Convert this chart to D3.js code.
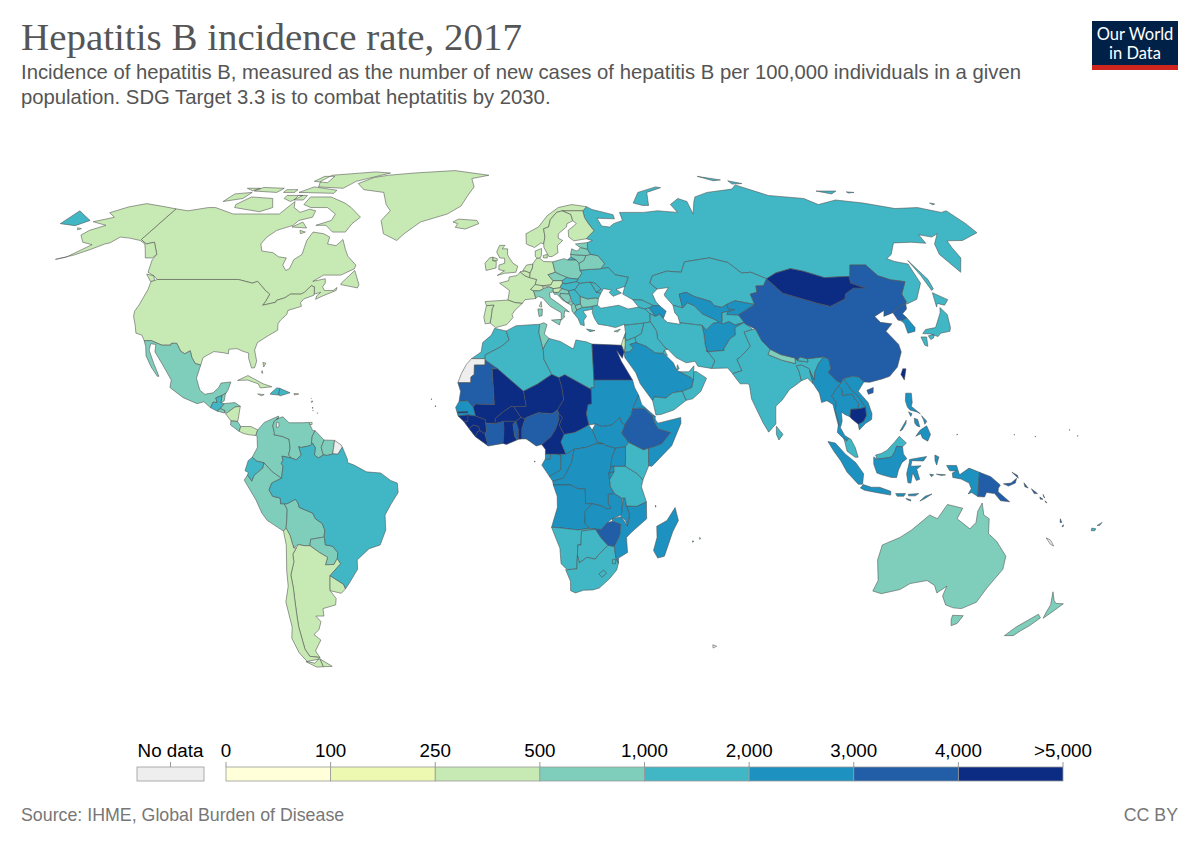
<!DOCTYPE html>
<html>
<head>
<meta charset="utf-8">
<script src="https://cdn.jsdelivr.net/npm/d3@7"></script>
<style>
  body { margin: 0; background: #fff; }
  text { font-family: "Liberation Sans", Arial, sans-serif; }
</style>
</head>
<body>
<div id="chart"></div>
<script>
// 1: DATA
// band limits and legend labels
const breaks = [100, 250, 500, 1000, 2000, 3000, 4000, 5000];
const tickLabels = ["0", "100", "250", "500", "1,000", "2,000", "3,000", "4,000", ">5,000"];
const bandColors = ["#ffffd9", "#edf8b1", "#c7e9b4", "#7fcdbb", "#41b6c4", "#1d91c0", "#225ea8", "#0c2c84"];

// Robinson lookup table, one row per 5 degrees of latitude
const robinsonLat = [0, 5, 10, 15, 20, 25, 30, 35, 40, 45, 50, 55, 60, 65, 70, 75, 80, 85, 90];
const robinsonLen = [1, .9986, .9954, .99, .9822, .973, .96, .9427, .9216, .8962, .8679, .835, .7986, .7597, .7186, .6732, .6213, .5722, .5322];
const robinsonDrop = [0, .062, .124, .186, .248, .31, .372, .434, .4958, .5571, .6176, .6769, .7346, .7903, .8435, .8936, .9394, .9761, 1];

// country list, rates read from the map colours (null = no data)
const countries = [
  "Russia", "Canada", "USA", "Greenland", "Iceland", "Mexico", "Guatemala", "Belize", "El Salvador", "Honduras",
  "Nicaragua", "Costa Rica", "Panama", "Cuba", "Haiti", "Dominican Republic", "Jamaica", "Puerto Rico", "Bahamas", "Trinidad",
  "Antilles", "Colombia", "Venezuela", "Guyana", "Suriname", "French Guiana", "Ecuador", "Peru", "Bolivia", "Paraguay",
  "Argentina", "Chile", "Uruguay", "Brazil", "Norway", "Sweden", "Finland", "Denmark", "UK", "Ireland",
  "France", "Spain", "Portugal", "Belgium", "Netherlands", "Germany", "Switzerland", "Austria", "Italy", "Poland",
  "Czechia", "Slovakia", "Hungary", "Slovenia", "Croatia", "Bosnia", "Serbia", "Montenegro", "Albania", "Macedonia",
  "Greece", "Bulgaria", "Romania", "Moldova", "Ukraine", "Belarus", "Lithuania", "Latvia", "Estonia", "Turkey",
  "Cyprus", "Georgia", "Armenia", "Azerbaijan", "Kazakhstan", "Turkmenistan", "Uzbekistan", "Tajikistan", "Kyrgyzstan", "Afghanistan",
  "Pakistan", "Iran", "Iraq", "Syria", "Lebanon", "Jordan", "Israel", "Saudi Arabia", "Yemen", "Oman",
  "UAE", "Qatar", "Kuwait", "India", "Nepal", "Bhutan", "Bangladesh", "Sri Lanka", "Myanmar", "China",
  "Mongolia", "Taiwan", "North Korea", "South Korea", "Japan", "Vietnam", "Laos", "Thailand", "Cambodia", "Malaysia",
  "Indonesia", "Papua New Guinea", "Solomon Islands", "Vanuatu", "Fiji", "New Caledonia", "Philippines", "Australia", "New Zealand", "Morocco",
  "Western Sahara", "Algeria", "Tunisia", "Libya", "Egypt", "Sudan", "South Sudan", "Chad", "Niger", "Mali",
  "Mauritania", "Senegal", "Gambia", "Guinea-Bissau", "Guinea", "Sierra Leone", "Liberia", "Ivory Coast", "Burkina Faso", "Ghana",
  "Togo", "Benin", "Nigeria", "Cameroon", "Central African Republic", "Gabon", "Equatorial Guinea", "Congo", "DR Congo", "Angola",
  "Zambia", "Namibia", "Botswana", "South Africa", "Lesotho", "Eswatini", "Zimbabwe", "Mozambique", "Malawi", "Tanzania",
  "Kenya", "Uganda", "Rwanda", "Burundi", "Ethiopia", "Eritrea", "Djibouti", "Somalia", "Madagascar", "Cape Verde",
  "Sao Tome", "Comoros", "Mauritius", "Kerguelen", "Palau", "Micronesia", "Marshall Islands"
];
const rates = [
  1450, 340, 380, 320, 290, 720, 1600, 800, 760, 850,
  420, 690, 460, 400, 1300, 1100, 450, 380, 420, 470,
  600, 760, 820, 780, 840, null, 1500, 790, 880, 740,
  430, 350, 390, 1350, 280, 300, 310, 270, 330, 290,
  360, 350, 440, 340, 300, 370, 320, 410, 650, 620,
  580, 1050, 1150, 470, 700, 780, 1200, 900, 850, 950,
  1050, 820, 1300, 1150, 1400, 800, 720, 780, 640, 1250,
  620, 1100, 1050, 2200, 1500, 1700, 2300, 1800, 2400, 2500,
  1400, 1300, 1350, 1200, 1100, 1050, 420, 2400, 1600, 1500,
  1300, 1200, 1100, 1500, 780, 1400, 1350, 1200, 2400, 3400,
  5400, 5200, 3500, 2100, 1300, 2500, 2400, 2300, 5300, 1600,
  2500, 3500, 3600, 3300, 1500, null, 2400, 800, 720, 1400,
  null, 1500, 880, 1450, 5400, 2600, 2500, 5300, 5500, 5200,
  3700, 2300, 5100, 4100, 5200, 5000, 5100, 3600, 5400, 5200,
  3800, 5000, 3700, 5100, 2600, 2700, 2800, 2400, 2500, 2600,
  2700, 1500, 1600, 1400, 1300, 1250, 3500, 2600, 2500, 1700,
  1600, 2600, 2500, 2400, 3600, 2300, 2200, 2700, 2600, 5100,
  5000, 2600, 2400, null, 1500, 1600, 1500
];

// country outlines as "lon lat,lon lat" rings, several rings split with |
const outlines = {
  "Russia": "31 70.3,33 69.4,41 67.8,41 66.5,34 66.7,35 64.3,38 64,40 65,44 66,44 68.5,54 68.5,60 69,68 68.5,67 71,72 73,75 72,74 68,78 72,80 73.5,87 75,100 76.2,104 77.7,113 74,127 73,130 71,140 72.5,150 71.5,160 69.7,170 70,177 68.5,180 69,180 65,179.5 62.3,170 60,164 59.9,163 58,162 55,157 51,155.6 56,158 59,163.6 62,160 61,156 61.7,155 59.2,150 59.5,143 59.3,138 56,135 54.8,137 54,141 53.3,140 48,135 43.6,130.7 42.3,131 43,131 45,135 48.4,130.5 48.9,127 50,125.6 53,120 53,117 49.7,116.7 49.8,113 49.7,108 49.5,102 51.3,98 52,92 50.8,87.8 49.2,83.4 51,80 50.8,77 53.7,71 55,61.5 53.9,59 51,54 51.3,48.5 50,47 48,49 46.4,47 45,47.6 43,48.5 41.9,46.5 41.9,43 43.4,40 43.5,37 45,38.2 47.1,40 49.6,35.6 50.3,33.8 52.3,31 52,32.7 53.4,30.9 55.6,28.2 56,27.5 57.5,28 59.4,30 60,27.8 60.5,31.5 62.9,30 65,29 66.9,29 69,31 70.3|19.6 54.4,21 55.3,22.8 54.4|51.5 71.5,55 70.7,57.5 70.7,60 75,68 76.7,66 77,56 75|142 54.3,143.5 49,143 46.5,142 46,142 50|91 81,100 79.5,96 79.2|103 79.2,108 78.2,103 78|137 75.5,146 75.5,142 74.5|150 75.2,153 75,150 74.8|178.5 71.5,180 71.2,178.5 70.9|-180 69,-175 67.5,-170 66,-173 64.4,-180 65",
  "Canada": "-141 69.6,-135 69,-128 70,-125 70,-115 68,-110 68,-100 68,-96 68,-94 72,-92 70,-88 68.5,-85 69.5,-82 69,-81.5 67,-86 66,-87 64.5,-92 63,-94 61,-94.5 59,-92.5 57,-88 56.5,-85 55.3,-82 55,-82 53,-80 51.5,-79 52,-79 54.5,-77 56,-77.5 58,-78 60,-77.5 62.5,-73 62,-70 61,-69.5 59,-66 58.5,-64.5 60.3,-62 57.5,-60 55.5,-56 53,-56 52,-60 50.2,-66 50.2,-69 48.5,-65 49.2,-64.5 48,-65 47,-64 46,-61 46,-60 46.8,-60 46,-64 44.5,-66 43.6,-66 44.5,-65 45.5,-67 45,-67.8 47,-69 47.3,-70.5 45.5,-71.5 45,-75 45,-76.5 44,-79 43.3,-79 42.8,-83 42,-82.5 43,-82 45,-84 46,-88 48.5,-89.5 48,-95 49,-123 49,-125 50,-128 51,-130 54.5,-130 56,-135 59.5,-137.5 59,-141 60.3|-80 73.5,-72 71.5,-68 70,-62 67,-64 65,-65 62.5,-70 62.5,-74 64.5,-78 64.5,-73 66,-73 68,-78 70,-85 70,-89 71,-89 73.5|-117 70,-105 68.7,-101 70,-105 73,-115 73.5,-118 71|-125 72,-118 73,-117 75,-124 74.5|-90 77,-78 76.5,-75 79,-62 82.5,-70 83,-90 81.5,-92 79|-96 75,-80 74.7,-80 75.8,-92 77|-117 75.5,-106 75,-105 76.5,-115 76.8|-59 47.6,-53 46.7,-52.8 47.6,-55.7 51.5,-59 48|-128 50.5,-125 48.5,-123.5 48.5,-125 50|-87 64,-81 63.7,-84 65.5|-95 79,-88 78.5,-88 81,-93 81|-100 73,-96 72,-93 74,-100 74|-122 76.5,-116 76.5,-118 75.6|-103 76,-98 76,-98 75,-103 75|-95 74,-91 74,-91 72.5,-95 72.5|-83 63,-80.5 62.5,-82 62",
  "USA": "-124.7 48.4,-123 49,-95 49,-89.5 48,-88 48.5,-84 46,-82 45,-82.5 43,-83 42,-79 42.8,-79 43.3,-76.5 44,-75 45,-71.5 45,-70.5 45.5,-69 47.3,-67.8 47,-67 45,-67 44.7,-70 43.7,-70.7 42.7,-70 41.7,-74 40.6,-74 39.5,-75.5 38,-76 37,-75.5 35.3,-78 33.9,-81 32,-81.3 30,-80 27,-80.3 25.3,-81.2 25.2,-82.7 27.8,-83 29.2,-85 29.7,-87 30.4,-89.5 30.2,-89.3 29,-91 29.3,-94 29.6,-97 28,-97.2 26,-99 26.4,-100.5 28,-101.5 29.8,-103 29,-104.5 29.7,-106.5 31.8,-108.2 31.8,-108.2 31.3,-111 31.3,-114.8 32.5,-117.1 32.5,-118.5 34,-120.6 34.5,-122 36.7,-123.8 39,-124.3 40.4,-124 42,-124 46.2|-141 69.6,-148 70.4,-156.5 71.3,-162 70.2,-166.5 68.4,-162 67,-164 66.5,-168 65.6,-161 64.5,-165 63,-166 61.6,-162 59.5,-157.5 58.8,-162 55.2,-165 54.6,-160 55.8,-156 57.5,-153 59,-151.5 59.3,-150 61,-146 60.7,-141 60,-138 59,-136 57.5,-133 55,-130.5 55,-130 56,-135 59.5,-137.5 59,-141 60.3|-171 63.8,-169 63.5,-170 63.2",
  "Greenland": "-73 78.2,-68 76,-58 75,-54 71,-51 69,-53 66,-50 62,-44 60,-42 62,-37 65.5,-27 68,-22 70.5,-20 74,-18 77,-20 80,-12 81.5,-30 83.6,-50 82.5,-62 81.5,-68 80.5",
  "Iceland": "-24 65.5,-22 66.4,-18 66.2,-14.5 66,-13.6 65,-18.7 63.4,-22.7 63.9,-22 65",
  "Mexico": "-117.1 32.5,-114.8 32.5,-111 31.3,-108.2 31.3,-108.2 31.8,-106.5 31.8,-104.5 29.7,-103 29,-101.5 29.8,-100.5 28,-99 26.4,-97.2 26,-97.8 22.5,-96.2 19.3,-94.5 18.2,-92 18.6,-90.5 20,-90 21.2,-87 21.5,-87.5 19.5,-88 18.5,-89.15 17.9,-91 17.25,-90.4 16,-91.7 16.1,-92.2 14.6,-94.5 16.2,-96.5 15.7,-101 17.3,-105.5 20,-105.5 22,-109 26,-112.5 29.5,-113 31.5,-114.7 31.7,-114.5 30,-112 26.5,-109.5 23,-110 23,-112.5 25.5,-115 28.5,-116 31",
  "Guatemala": "-92.2 14.6,-91.7 16.1,-90.4 16,-91 17.25,-89.15 17.9,-89.2 15.9,-88.2 15.7,-89.2 14.5,-90.1 13.7",
  "Belize": "-89.15 17.9,-88.2 18.5,-88.3 16.5,-89.2 15.9",
  "El Salvador": "-90.1 13.7,-89.2 14.4,-87.8 13.9,-87.8 13.2",
  "Honduras": "-89.2 14.4,-88.2 15.7,-85 16,-83.2 15,-84.8 14.8,-87.3 13,-87.8 13.4,-87.8 13.9",
  "Nicaragua": "-87.5 13,-84.8 14.8,-83.2 15,-83.6 11,-85.7 11.1",
  "Costa Rica": "-85.7 11.1,-83.6 10.9,-82.6 9.6,-83 8.3,-85.7 10",
  "Panama": "-83 8.3,-82.6 9.6,-79.5 9.6,-77.4 8.7,-77.9 7.2,-80 7.4,-81.5 7.7",
  "Cuba": "-85 21.9,-82 23.2,-77 21,-74.2 20.2,-77.7 19.9,-78.5 21,-82 22",
  "Haiti": "-74.4 18.4,-72.7 19.9,-71.7 19.8,-71.8 18,-74.4 18.2",
  "Dominican Republic": "-71.7 19.8,-68.4 18.6,-71.3 17.8,-71.8 18",
  "Jamaica": "-78.3 18.3,-76.3 18.1,-77.2 17.8",
  "Puerto Rico": "-67.2 18.4,-65.7 18.3,-67 18",
  "Bahamas": "-78 26.7,-77 26.5,-77.5 25.5|-77.8 24.5,-77.5 23.8,-77.9 24",
  "Trinidad": "-61.8 10.7,-61 10.7,-61 10.1,-61.9 10.1",
  "Antilles": "-61.8 17.1,-61.7 17.1,-61.7 17|-61.7 16.3,-61.2 16.4,-61.5 16|-61.2 14.8,-61 14.6,-61.1 14.4|-61 14,-60.9 13.9,-61 13.8|-59.6 13.3,-59.5 13.1,-59.6 13.1",
  "Colombia": "-77.4 8.7,-75.5 10.7,-72.3 12,-71.3 12.4,-71.3 11.8,-72.5 11,-72.9 9.8,-72.3 8,-72.4 7.4,-70 7,-67.8 6.2,-67.4 3.8,-67.8 2,-67 1.2,-69.8 1.7,-69.5 0.6,-70 -0.2,-69.5 -1,-70 -4.2,-70.7 -3.8,-72.9 -2.4,-75.2 -0.1,-77.5 0.4,-78.8 1.4,-77.3 4,-77.5 7,-77.9 7.2",
  "Venezuela": "-71.3 11.8,-71.9 11.6,-70 12.2,-68 10.6,-64 10.6,-62 10.7,-60.7 8.5,-60 8.5,-60.8 7,-61 5.2,-60.7 5.2,-61.3 4.5,-64 4,-64.8 4.2,-64 2,-65.5 0.7,-67 1.2,-67.8 2,-67.4 3.8,-67.8 6.2,-70 7,-72.4 7.4,-72.3 8,-72.9 9.8,-72.5 11|-71.7 10.8,-71.1 10.6,-71 9.6,-71.8 9.3",
  "Guyana": "-60 8.5,-57.2 6,-58 4,-57.3 2,-58.8 1.2,-60 2,-59.8 4,-60.7 5.2,-61 5.2,-60.8 7",
  "Suriname": "-57.2 6,-54 5.9,-54.5 2.3,-56 1.9,-57.3 2,-58 4",
  "French Guiana": "-54 5.9,-52 4.7,-51.6 4.1,-52.9 2.2,-54.5 2.3",
  "Ecuador": "-78.8 1.4,-77.5 0.4,-75.2 -0.1,-75.6 -1.5,-78.3 -3.5,-79 -5,-80.3 -3.4,-80 -2.7,-81 -2.2,-80 0.5",
  "Peru": "-80.3 -3.4,-79 -5,-78.3 -3.5,-75.6 -1.5,-75.2 -0.1,-72.9 -2.4,-70.7 -3.8,-70 -4.2,-73 -5.5,-73.9 -7.3,-72.9 -9,-70.6 -9.5,-70.6 -11,-69.5 -11,-68.7 -12.5,-69 -15,-69.5 -17.5,-70.4 -18.3,-75 -15.5,-76.5 -13.5,-78 -10,-81.3 -4.7",
  "Bolivia": "-69.5 -11,-68.7 -12.5,-69 -15,-69.5 -17.5,-68.5 -19.5,-67.8 -22.8,-66.3 -21.9,-64.5 -22.2,-62.7 -22.2,-62.3 -20.5,-58.2 -19.9,-57.7 -18,-58.3 -16.3,-60.3 -15,-61 -13.5,-65 -12,-65.3 -10.8,-66 -9.8,-68.6 -11",
  "Paraguay": "-62.7 -22.2,-62.3 -20.5,-58.2 -19.9,-58 -20,-57.9 -22,-55.8 -22.3,-54.3 -24,-54.6 -25.6,-55.9 -27.2,-58.6 -27.3,-57.6 -25.3,-60 -24",
  "Argentina": "-66.3 -21.9,-64.5 -22.2,-62.7 -22.2,-60 -24,-57.6 -25.3,-58.6 -27.3,-55.9 -27.2,-54.6 -25.6,-53.8 -27,-57.6 -30.2,-58.2 -33,-58.4 -34.2,-57 -36.3,-57.6 -38,-62 -39,-62.3 -41,-65 -41,-63.8 -42.5,-65.3 -44.7,-67.5 -46,-65.8 -47.5,-69 -50.5,-68.4 -52.3,-71.8 -52,-72.4 -50,-71.8 -44,-71.2 -41,-70.5 -37,-70 -33.5,-69.9 -30,-68.3 -26.5,-68.3 -24.5,-67 -22.8|-68.6 -52.7,-65.3 -54.8,-68.6 -54.9",
  "Chile": "-69.5 -17.5,-70.4 -18.3,-70 -22,-71 -29,-71.5 -33,-73.5 -37.2,-73.7 -41,-74 -44,-75.5 -47,-75 -51,-73.5 -53.5,-71 -53.9,-68.4 -52.3,-71.8 -52,-72.4 -50,-71.8 -44,-71.2 -41,-70.5 -37,-70 -33.5,-69.9 -30,-68.3 -26.5,-68.3 -24.5,-67 -22.8,-67.8 -22.8,-68.5 -19.5|-68.6 -52.7,-68.6 -54.9,-71 -55,-74 -53.5,-70.5 -53",
  "Uruguay": "-57.6 -30.2,-53.8 -32.5,-53.4 -33.7,-55 -34.9,-58.4 -34.2,-58.2 -33",
  "Brazil": "-51.6 4.1,-50 0.8,-50 0,-48 -0.7,-44.3 -2.5,-40 -2.8,-37 -4.8,-35 -5.5,-34.8 -8,-37 -11,-39 -14,-39 -18,-41 -22,-44.5 -23,-48.5 -26,-48.7 -28.5,-52 -32.3,-53.4 -33.7,-53.8 -32.5,-57.6 -30.2,-53.8 -27,-54.6 -25.6,-54.3 -24,-55.8 -22.3,-57.9 -22,-58 -20,-57.7 -18,-58.3 -16.3,-60.3 -15,-61 -13.5,-65 -12,-65.3 -10.8,-66 -9.8,-68.6 -11,-70.6 -11,-70.6 -9.5,-72.9 -9,-73.9 -7.3,-73 -5.5,-70 -4.2,-69.5 -1,-70 -0.2,-69.5 0.6,-69.8 1.7,-67 1.2,-65.5 0.7,-64 2,-64.8 4.2,-64 4,-61.3 4.5,-60.7 5.2,-59.8 4,-60 2,-58.8 1.2,-57.3 2,-56 1.9,-54.5 2.3,-52.9 2.2",
  "Norway": "5 59,5 62,10 64,14 67.5,19 70,25 71,31 70.3,29 69,25.7 69,20.5 69,18 68.5,15 66.2,14 64,12 63.5,12.2 61,11.5 59,10.5 59.3,8 58,5.5 58.8",
  "Sweden": "11.5 59,12.2 61,12 63.5,14 64,15 66.2,18 68.5,20.5 69,23.7 67.9,24 65.9,21.5 65,21 64,17.5 62,17.2 60.7,18.8 60,16.5 58.5,16.5 56.5,14.2 55.4,13 55.4,11.5 58",
  "Finland": "20.5 69,25.7 69,29 69,29 66.9,30 65,31.5 62.9,27.8 60.5,23 59.9,21.3 61,21.5 63,25.2 65,24 65.9,23.7 67.9",
  "Denmark": "8.1 55.5,8.2 57,10.6 57.7,10.3 55.6,9.7 54.9,8.6 54.9|11 55.7,12.5 56,12.4 55,11 55",
  "UK": "-5.5 50.1,-3 50.7,1 51,1.7 52.7,0 53.5,-1.5 55.2,-2 56,-2 57.6,-4 57.6,-3 58.6,-5 58.6,-6 56.7,-4.8 55,-3 54.9,-3 53.5,-5 53,-5 51.7,-3 51.4|-7.3 55.2,-5.7 54.8,-5.6 54.3,-7.3 54.2",
  "Ireland": "-7.3 55.2,-7.3 54.2,-6 54,-6 52.2,-9.5 51.5,-10 53.5,-8.5 55",
  "France": "-1.7 43.4,-1.2 46,-4.6 48,-1.5 48.7,-1.3 49.7,1.5 50.1,2.5 51.1,4.2 50,5.8 49.5,8.2 49,7.6 47.6,6 46.3,7 45.9,7.6 44,7.5 43.8,4 43.5,3.1 42.5,0.7 42.7|9.4 43,9.5 41.5,8.7 41.7",
  "Spain": "-9.3 43,-1.7 43.4,0.7 42.7,3.1 42.5,0.7 40.7,-0.3 39.5,0 38.7,-2 36.8,-5.6 36,-7.4 37.2,-7 39.7,-6.9 41,-6.3 42,-8.8 41.9",
  "Portugal": "-8.8 41.9,-6.3 42,-6.9 41,-7 39.7,-7.4 37.2,-9 37,-9.5 38.8",
  "Belgium": "2.5 51.1,4.2 51.4,6 50.8,5.8 49.5,4.2 50",
  "Netherlands": "3.4 51.4,4.8 53,7.1 53.3,6.9 52.2,6 50.8,4.2 51.4",
  "Germany": "6 50.8,6.9 52.2,7.1 53.4,8.6 54.9,9.7 54.9,11 54,14.2 53.9,14.7 51.5,14.9 51,12.2 50.3,13.8 48.7,13 47.5,10 47.3,7.6 47.6,8.2 49,5.8 49.5",
  "Switzerland": "6 46.3,7.6 47.6,10 47.3,10.4 46.5,9 45.9,7 45.9",
  "Austria": "10 47.3,13 47.5,13.8 48.7,17 48.7,17 48,16.1 46.9,16 46.7,13.7 46.5,12.2 47,10.4 46.9",
  "Italy": "7 45.9,9 45.9,10.4 46.5,12.2 47,13.7 46.5,13.6 45.7,12.3 45.3,12.5 44,16 41.9,18.5 40.2,17 40.5,16.6 39,17 39,15.7 38,15.8 40,12.3 41.7,10 43.9,8.5 44.4,7.5 43.8,7.6 44|12.5 38,15.6 38.2,15 36.7|8.2 41,9.7 41,9.5 39.2,8.5 39",
  "Poland": "14.2 53.9,18.5 54.8,19.6 54.4,22.8 54.4,23.6 53.5,23.6 51.6,24.1 50.7,22.5 49.1,19 49.4,16.5 50.3,14.9 51,14.7 51.5",
  "Czechia": "12.2 50.3,14.9 51,16.5 50.3,18.8 49.6,17 48.7,13.8 48.7",
  "Slovakia": "17 48.7,18.8 49.6,19 49.4,22.5 49.1,22 48.4,18 47.8,17 48",
  "Hungary": "16.1 46.9,17 48,18 47.8,22 48.4,22.9 48,21 46.2,18.8 45.9,16.6 46.5",
  "Slovenia": "13.7 46.5,16 46.7,16.6 46.5,15.3 45.4,13.6 45.5",
  "Croatia": "13.6 45.5,15.3 45.4,16.6 46.5,18.8 45.9,19 45,16 45.2,15.8 44.5,17.5 43,18.5 42.4,16.5 43.4,14.8 45,14 44.9",
  "Bosnia": "16 45.2,19 45,19.4 44,18.5 42.6,17.5 43,15.8 44.5",
  "Serbia": "19 45,18.8 45.9,21 46.2,22.6 44.4,22.4 42.3,20.6 41.9,20 42.6,19.4 43.2,19.4 44",
  "Montenegro": "18.5 42.4,18.5 42.6,19.4 43.2,20 42.6,19.3 41.9",
  "Albania": "19.3 41.9,20 42.6,20.6 41.9,21 40.7,20 39.7,19.4 40.4",
  "Macedonia": "20.6 41.9,22.4 42.3,23 41.4,21 40.7",
  "Greece": "20 39.7,21 40.7,23 41.4,26.3 41.7,26 40.9,23 40.4,24 39,23 38,23 36.5,21.8 36.8,21.2 38.4|23.6 35.6,26.3 35.2,24.6 34.9",
  "Bulgaria": "22.4 42.3,22.6 44.4,25 43.7,27.5 44,28.6 43.8,28 42,26.3 41.7,23 41.4",
  "Romania": "22.9 48,26.6 48.3,28.2 45.5,29.7 45.3,28.6 43.8,27.5 44,25 43.7,22.6 44.4,21 46.2",
  "Moldova": "26.6 48.3,28.2 48,30 46.4,28.2 45.5",
  "Ukraine": "22.5 49.1,24.1 50.7,23.6 51.6,31 52,33.8 52.3,35.6 50.3,40 49.6,38.2 47.1,35 46.3,36.6 45.3,33.6 44.4,32.5 45.5,33.5 46.1,30.8 46.5,29.7 45.3,28.2 45.5,30 46.4,28.2 48,26.6 48.3,22.9 48,22 48.4",
  "Belarus": "23.6 51.6,23.6 53.5,25.5 54.3,26.5 55.7,28.2 56,30.9 55.6,32.7 53.4,31 52",
  "Lithuania": "21 56,26.5 55.7,25.5 54.3,23.6 53.5,22.8 54.4,21 55.3",
  "Latvia": "21 56,21.7 57.6,23.3 57,24.3 57.3,25 58,27.5 57.5,28.2 56,26.5 55.7",
  "Estonia": "23.4 59,28 59.4,27.5 57.5,25 58,24.4 58.3",
  "Turkey": "26 40,26.3 41.7,28 42,29 41.2,35 42,38 41,41.5 41.5,43.5 41,44.8 39.7,44.5 37.5,42.3 37.2,38 36.8,36.2 36.6,36 36.9,33 36,30.5 36.5,27.5 36.9,26.5 38.5",
  "Cyprus": "32.4 35,34.5 35.6,33.5 34.8",
  "Georgia": "40 43.5,43 43.4,46.5 41.9,45 41.3,43.5 41,41.5 41.5",
  "Armenia": "43.5 41,45 41.3,46.5 39,44.8 39.7",
  "Azerbaijan": "45 41.3,46.5 41.9,48.5 41.9,50.3 40.4,48.9 38.4,48 39.6,46.5 39",
  "Kazakhstan": "47 48,48.5 50,54 51.3,59 51,61.5 53.9,71 55,77 53.7,80 50.8,83.4 51,87.8 49.2,85.7 47.3,83 47.2,82.5 45.5,80 45,80.2 42.2,74 43.2,70.9 42.2,69 41.4,66.5 41.9,66 43,61 44.3,58.5 45.5,56 45,56 41.3,53 42,51 44.5,51 45,53 46.8,49 46.4",
  "Turkmenistan": "53 42,56 41.3,58 42.7,60 41.9,62 39.7,66 38,66.5 37.4,64.7 37.1,62 35.3,61 36.6,54 37.3,53.8 39,53 40",
  "Uzbekistan": "56 45,58.5 45.5,61 44.3,66 43,66.5 41.9,69 41.4,70.9 42.2,71 41,73 40.8,70.6 40.3,68.5 40,68 38,67.5 37.2,66.5 37.4,66 38,62 39.7,60 41.9,58 42.7,56 41.3",
  "Tajikistan": "67.5 37.2,68 38,68.5 40,70.6 40.3,70 39.5,73.7 39.4,75 37.4,71.6 36.7,70 37.6,68 37",
  "Kyrgyzstan": "70.9 42.2,74 43.2,80.2 42.2,76 40.4,73.7 39.4,70 39.5,70.6 40.3,73 40.8,71 41",
  "Afghanistan": "61 36.6,62 35.3,64.7 37.1,66.5 37.4,68 37,70 37.6,71.6 36.7,74.9 37.4,71.5 36,71 34,69 33,66.5 30.4,66.4 29.9,61 29.5,60.8 31.5,61 34",
  "Pakistan": "60.9 29.9,61 29.5,66.4 29.9,66.5 30.4,69 33,71 34,71.5 36,74.9 37.4,77 35.5,74 34.8,74.5 32.7,75 31,71 28,70 27.5,71 24.5,68 23.7,66.7 25.2,61.6 25.1,63 27.1",
  "Iran": "44.8 39.7,46.5 39,48 39.6,48.9 38.4,50 37.4,54 36.9,54 37.3,61 36.6,61 34,60.8 31.5,61 29.5,60.9 29.9,63 27.1,61.6 25.1,57.5 25.7,56.8 27,54 26.6,51 28,48.7 30.3,48 30.5,47.7 31,46 33,46 35,44.7 37.3,44.5 37.5",
  "Iraq": "38.8 33.4,41 34.4,42.3 37.2,44.5 37.5,44.7 37.3,46 35,46 33,47.7 31,48 30.5,48.7 30.2,47.7 30,47 29.1,44.7 29.2,42 31,39 32",
  "Syria": "36 36.9,36.2 36.6,38 36.8,42.3 37.2,41 34.4,38.8 33.4,36 32.5,35.7 33.3,36 34.6",
  "Lebanon": "36 34.6,35.7 33.3,35.1 33.1",
  "Jordan": "35.7 33.2,36 32.5,38.8 33.4,39 32,37 31.5,38 30.5,36.5 29.5,35 29.4,35.5 31.5",
  "Israel": "35.1 33.1,35.7 33.3,35.5 31.5,35 29.5,34.2 31.3",
  "Saudi Arabia": "34.9 29.4,36.5 29.5,38 30.5,37 31.5,39 32,42 31,44.7 29.2,47 29.1,48 28.5,50 26.6,50.8 24.7,51.6 24.2,55 22.7,55.7 22,55 20,52 19,49 18.6,46.8 17.2,43.3 17.5,42.7 16.5,39.2 21,38 24,35 28",
  "Yemen": "42.7 16.5,43.3 17.5,46.8 17.2,49 18.6,52 19,53 16.6,49 14,45 12.8,43.5 12.7",
  "Oman": "52 19,55 20,55.7 22,56 24.2,56.8 24.3,59.8 22.5,57.7 19,55 17,53 16.6",
  "UAE": "51.6 24.2,54.5 24.2,56.3 25.8,56 24.2,55.7 22,55 22.7",
  "Qatar": "50.8 24.7,51.2 26.1,51.6 25",
  "Kuwait": "47.7 30,48.4 28.5,47 29.1",
  "India": "74 34.8,77 35.5,78 35.5,79 32.5,81 30.2,80 28.8,84 27.3,88 26.4,88.2 27.9,88.8 27.2,92 26.8,92 27.7,97.3 28.2,95.2 26.4,93.5 24,93 22,92 24.5,92 25,89.8 26,88.2 25.8,88.7 24.3,89 21.8,86.8 20.5,85 19.5,82.3 16.6,80.2 15,80 13,79.8 10.3,77.5 8.1,76 10.5,74.8 13,73 17,72.8 20.5,72.5 21,72 21,70 21,69 22.3,68 23.7,71 24.5,70 27.5,71 28,75 31,74.5 32.7",
  "Nepal": "80 28.8,81 30.2,84 28.8,88.2 27.9,88 26.4,84 27.3",
  "Bhutan": "88.8 27.2,89.8 28.2,92 27.7,92 26.8",
  "Bangladesh": "88.2 25.8,89.8 26,92 25,92.5 21,91 22.5,89 21.8,88.7 24.3",
  "Sri Lanka": "79.9 9.7,81.8 7.5,80.5 6,79.8 7.5",
  "Myanmar": "92.5 21,92 24.5,93 22,93.5 24,95.2 26.4,97.3 28.2,98.7 27.6,98.7 25,97.7 24,100 21.7,101.2 21.3,100.1 20.4,97.7 17.7,98.8 16,98.2 14,99 10,98.7 10,97.7 15.5,96 16.5,94.3 16,94 18.5",
  "China": "73.7 39.4,76 40.4,80.2 42.2,80 45,82.5 45.5,83 47.2,85.7 47.3,87.8 49.2,91 45.3,95 44.2,101 42.6,105 41.7,111 43.7,112 45,116 46.7,119.8 46.7,116 48,116.7 49.8,117 49.7,120 53,125.6 53,127 50,130.5 48.9,135 48.4,131 45,131 43,130.5 42.5,128 41.7,124.5 40,121 39,122 40.6,118 39,119 37.4,122.5 37,119.5 35,122 31.5,122 29.5,119.5 25.5,116.5 23,114 22.3,110 21.4,108.2 21.5,106.8 22.8,105 23,102 22.4,101.2 21.3,100 21.7,97.7 24,98.7 25,98.7 27.6,97.3 28.2,92 27.7,89.8 28.2,88.8 27.2,88.2 27.9,84 28.8,81 30.2,79 32.5,78 35.5,75 37,74.9 37.4|108.7 19.3,110.8 20,110.5 18.6,109 18.2",
  "Mongolia": "87.8 49.2,92 50.8,98 52,102 51.3,108 49.5,113 49.7,116.7 49.8,116 48,119.8 46.7,116 46.7,112 45,111 43.7,105 41.7,101 42.6,95 44.2,91 45.3",
  "Taiwan": "121 25,122 25,120.8 22,120.1 23.5",
  "North Korea": "124.5 40,128 41.7,130.5 42.5,129.7 41,127.5 39.7,128.3 38.6,126 37.8,125 38",
  "South Korea": "126 37.8,128.3 38.6,129.4 36,128.8 35,126.3 34.5,126.6 37",
  "Japan": "131 34.4,132.5 35.5,136 36,137.5 37.5,140 40,141 41.4,142 39.5,140.8 36,140 35,136.8 34.5,135.5 33.6,133.5 34.3|140 41.5,141.7 45.4,145.3 43.5,143 42,141 42.5|130 33.5,131.8 33.5,131 31,130.2 31.3|132.5 33.8,134.5 34.2,134 33.3,132.8 32.8",
  "Vietnam": "102 22.4,105 23,106.8 22.8,108.2 21.5,106 19,108.5 16,109.3 13,109 11.5,107 10.4,105 8.7,104.8 10.2,106.5 11,107.5 12.5,107.5 14.7,105.5 18,104 19.2,103 20.8",
  "Laos": "101.2 21.3,102 22.4,103 20.8,104 19.2,105.5 18,107.5 14.7,106 14.4,105 14.3,105.6 15.7,104.7 16.7,104 18.2,102.2 18,101 17.8,101 19.5,100.1 20.4",
  "Thailand": "100.1 20.4,101 19.5,101 17.8,102.2 18,104 18.2,104.7 16.7,105.6 15.7,105 14.3,103 14.2,102.5 12.2,101 12.8,100 13.5,100 11,99.3 9.3,100.5 7.2,101.7 6.5,101 5.7,100 6.5,98.3 8,98.7 10,99 10,98.2 14,98.8 16,97.7 17.7",
  "Cambodia": "103 14.2,105 14.3,106 14.4,107.5 14.7,107.5 12.5,106.5 11,104.8 10.2,102.9 11.7,102.5 12.2",
  "Malaysia": "100.1 6.5,101 5.7,101.7 6.5,102.3 6.2,103.5 4,104.3 1.4,103.4 1.4,101 3,100.4 5.5|109.6 2,111.3 2.4,113 3.2,115.5 5.5,117 7,119 5.2,117.8 4.2,116 4.3,115.5 3,114.5 1.5,113 1.2,110 0.9",
  "Indonesia": "109 1.5,110 0.9,113 1.2,114.5 1.5,115.5 3,116 4.3,117.8 4.2,118 2.3,119 1,117.5 0,116.5 -2,116 -4,114.5 -4,111.5 -3.3,110 -2.8,109 -0.5|95.3 5.6,97.5 5.2,100.5 2.2,103.5 0,106 -3,105.8 -5.8,104.5 -5.8,101 -2.6,99 0.5,97 3|105.2 -6.8,106 -5.9,108.5 -6.6,111 -6.6,114.5 -7.7,114.5 -8.7,110 -8,106.5 -7.4|119.8 0.8,125 1.6,124 0.4,120.5 0.5,120.2 -1,123.3 -0.9,122 -1.8,123 -4.5,122 -4.8,121 -3,120.8 -2.8,120.4 -5.5,119.5 -5.4,119 -3,119.7 0|116 -8.3,119 -8.3,118.5 -9,116.5 -9|119.8 -8.5,123 -8.3,122 -8.9,120 -8.9|123.5 -10.3,125 -9,127 -8.4,125 -9.6|119.2 -9.6,120.6 -9.9,120.8 -10.3,119.5 -9.9|127.5 2,128.7 1.5,128 -0.7,127.5 0.5|128 -3.1,130.8 -3.3,129.5 -3.5|126 -3.1,127.2 -3.3,126.5 -3.8|131 -0.8,134 -0.8,135 -3.3,137.8 -1.5,141 -2.6,141 -9.1,139 -8,138 -8.4,138.8 -7,138 -5.5,135.5 -4.4,133 -4,132.8 -2.8,134 -2.3,132 -2.2",
  "Papua New Guinea": "141 -2.6,144.5 -3.8,147.5 -6,147 -6.9,147 -7.8,150.8 -10.5,148 -10.2,146 -8.3,143.5 -8,143 -9.2,141 -9.1|148.4 -5.7,150.7 -5.5,152.3 -4.2,152 -5.5,150 -6.3|150.8 -2.6,152.8 -4.2,152.5 -3.4|154.6 -5.4,156 -6.8,155 -6.5",
  "Solomon Islands": "157 -7,159 -8.3,158 -8.3|159.8 -9.2,160.8 -9.8,160 -9.8|160.7 -8.5,161.3 -9.5,161 -9.2|161.5 -10.2,162.2 -10.8,161.7 -10.6",
  "Vanuatu": "167 -15,167.2 -16,167.7 -16|168 -17,168.4 -16.6,168.4 -17.2",
  "Fiji": "177.3 -17.5,178.6 -17.7,178.4 -18.2,177.3 -18.2|178.7 -16.8,180 -16,179.5 -16.8",
  "New Caledonia": "164 -20.1,165.5 -20.7,167 -22.3,165.8 -21.8",
  "Philippines": "120.5 18.5,122.2 18.5,122 16,121.5 15,124 13,123 13.5,121 14,120.3 14.8,120 16.5|122 7,123.4 8.6,125.5 9.8,126.5 7.5,125.5 5.7,124 6.5,123.5 7.7|117.3 8.4,119.5 11.3,119.3 10.4,118 8.7|124.3 12.5,125.7 11,125 10.2,124.8 11.3|122 11.8,123 11.5,123.4 9.5,122.5 9.8,122 10.5|120.5 13.5,121.5 13,121 12.3",
  "Australia": "114 -22,113.5 -26,115.5 -31.5,115 -34.3,118 -35,123.5 -33.9,126 -32.3,131 -31.5,134 -32.8,135.7 -34.8,138 -33,138 -35.6,140.5 -38,143.5 -38.8,146.3 -39,150 -37.3,151 -33.5,153.5 -28.5,153 -25,149 -21,146 -19,145.3 -15,143.5 -14,142.5 -10.8,141.5 -13,141.5 -16,140 -17.7,135.5 -15,136.8 -12.2,132 -11.2,129.5 -15,127 -14,124 -16.5,122.2 -18,119 -20|144.7 -40.8,148.3 -40.9,148 -43,146.5 -43.6,145.2 -42",
  "New Zealand": "172.7 -34.5,174.8 -36.8,176 -37.6,178.5 -37.7,177 -39.5,175.3 -41.6,174.7 -39.8,174.6 -38|172.7 -40.5,174.3 -41.5,172.8 -43.5,171 -45,170 -46.3,167 -46.3,168.5 -44",
  "Morocco": "-5.9 35.8,-2.2 35.1,-1.2 32.7,-3.6 31,-8.7 28.7,-8.7 27.7,-13 27.7,-10 29.5,-9.6 32,-6.9 34",
  "Western Sahara": "-13 27.7,-8.7 27.7,-8.7 26,-12 26,-12 23.5,-13 22.8,-13 21.3,-17 21.3,-16 23.7,-14.5 26.2",
  "Algeria": "-2.2 35.1,1 36.5,8.6 36.9,8.3 34.6,9.5 30.2,9.7 27.5,12 23.5,7.5 20.9,3.2 19,-4.8 25,-8.7 27.3,-8.7 28.7,-3.6 31,-1.2 32.7",
  "Tunisia": "8.6 36.9,10 37.3,11 36.8,10 34.3,11.5 33.1,10.3 31.6,9.5 30.2,8.3 34.6",
  "Libya": "11.5 33.1,15 32.3,19 30.3,20 32.7,23.2 32.2,25 31.6,25 22,25 20,24 20,24 19.5,16 23.4,14.2 22.6,12 23.5,9.7 27.5,9.5 30.2,10.3 31.6",
  "Egypt": "25 31.6,31 31.4,34.3 31.3,34.9 29.5,34.2 27.8,32.6 29.9,33.8 27,36.9 22,25 22",
  "Sudan": "25 22,36.9 22,37.4 20,38.5 18,36.5 14.3,36 12.7,34.2 10.5,34 10,33 10.5,32.5 12,30 10,27 9.6,25 10.3,23 10,22.3 13,22.9 15.5,24 15.7,24 20,25 20",
  "South Sudan": "24 8.7,25 10.3,27 9.6,30 10,32.5 12,33 10.5,34 10,33 7.8,35 5.4,34 4.2,31 3.8,28 4.5,27.4 5,25.5 5.4",
  "Chad": "14.2 22.6,16 23.4,24 19.5,24 15.7,22.9 15.5,22.3 13,23 10,21 9,18.7 8,15.5 7.5,14 10,15 12,14 13,13.5 14,15.5 16.8,15 20",
  "Niger": "12 23.5,14.2 22.6,15 20,15.5 16.8,13.5 14,12 13,7.8 13.3,4 12,3.7 11.7,2.4 12,0.2 14.9,4 15,3.2 19,7.5 20.9",
  "Mali": "-12.2 14.8,-11.4 12.4,-8.4 11.4,-8.3 10.5,-5.5 10.4,-5.3 11.8,-2.9 13.6,-0.5 15,0.2 14.9,4 15,3.2 19,-4.8 25,-6.5 25,-5.7 15.5,-11.5 15.6",
  "Mauritania": "-17 21.3,-13 21.3,-13 22.8,-12 23.5,-12 26,-8.7 26,-8.7 27.3,-4.8 25,-6.5 25,-5.7 15.5,-11.5 15.6,-12.2 14.8,-14 16.5,-16.5 16.3,-16.1 19",
  "Senegal": "-16.5 16.3,-14 16.5,-12.2 14.8,-11.4 12.4,-13.7 12.7,-16.7 12.4,-17.5 14.7",
  "Gambia": "-16.8 13.5,-13.8 13.6,-13.8 13.3,-16.8 13.2",
  "Guinea-Bissau": "-16.7 12.4,-13.7 12.7,-13.7 11,-15 11",
  "Guinea": "-13.7 12.7,-11.4 12.4,-8.4 11.4,-8.3 10.5,-8 8.5,-8.5 7.6,-10 8.5,-10.5 9.6,-12 10,-13.3 9,-15 11,-13.7 11",
  "Sierra Leone": "-13.3 9,-12 10,-10.5 9.6,-10 8.5,-10.7 8.3,-11.4 6.9",
  "Liberia": "-11.4 6.9,-10.7 8.3,-10 8.5,-8.5 7.6,-8.3 7,-7.5 4.4",
  "Ivory Coast": "-8.5 7.6,-8 8.5,-8.3 10.5,-5.5 10.4,-2.9 11,-2.7 9,-3 5.1,-7.5 4.4,-8.3 7",
  "Burkina Faso": "-5.5 10.4,-5.3 11.8,-2.9 13.6,-0.5 15,0.2 14.9,2.4 12,0.9 11,-2.9 11",
  "Ghana": "-2.9 11,0.9 11,0 10.3,0.5 7,1.2 6,-2 4.8,-3 5.1,-2.7 9",
  "Togo": "0.9 11,1.6 9,1.6 6.2,1.2 6,0.5 7,0 10.3",
  "Benin": "0.9 11,2.4 12,3.7 11.7,2.7 9,2.7 6.3,1.6 6.2,1.6 9",
  "Nigeria": "2.7 6.3,2.7 9,3.7 11.7,4 12,7.8 13.3,12 13,13.5 14,14 13,14 11.5,13 9,11.5 6.9,8.7 4.8,7 4.4,5 5.7,4 6.3",
  "Cameroon": "8.7 4.8,11.5 6.9,13 9,14 11.5,14 13,15 12,14 10,15.5 7.5,14.5 5.5,16 2.2,13.2 2.2,9.8 2.2,9.8 3.5",
  "Central African Republic": "15.5 7.5,18.7 8,21 9,23 10,24 8.7,25.5 5.4,27.4 5,25 5,22.5 4.1,18.5 3.5,16 2.2,14.5 5.5",
  "Gabon": "9.8 1,11.3 1,11.3 2.2,13.2 2.2,14.5 2,14.4 -2,11 -3.7,8.7 -0.7",
  "Equatorial Guinea": "9.8 2.2,11.3 2.2,11.3 1,9.8 1",
  "Congo": "11 -3.7,14.4 -2,14.5 2,13.2 2.2,16 2.2,18.5 3.5,17.7 0,16 -3,15.2 -4.2,12 -5",
  "DR Congo": "12 -5,15.2 -4.2,16 -3,17.7 0,18.5 3.5,22.5 4.1,25 5,27.4 5,28 4.5,31 3.8,29.8 1,29.6 -1.4,29 -2.8,29.2 -4.5,29.5 -6.5,30.8 -8.3,28.9 -8.5,29 -11,29.8 -12.2,28.4 -12.4,27 -11.6,24 -11,22 -11,22 -9.7,21.8 -7,19.5 -7,17.5 -6,12.2 -6",
  "Angola": "12.2 -6,17.5 -6,19.5 -7,21.8 -7,22 -9.7,22 -11,24 -11,22 -13,22 -16.2,23.4 -17.6,20 -18,13.9 -17.4,11.8 -17.3,13.5 -12,13.4 -9",
  "Zambia": "22 -13,24 -11,27 -11.6,28.4 -12.4,29.8 -12.2,29 -11,28.9 -8.5,30.8 -8.3,33 -9.5,33.3 -11,33 -14,30.2 -15,28.9 -16,27 -17.9,25.3 -17.8,23.4 -17.6,22 -16.2",
  "Namibia": "11.8 -17.3,13.9 -17.4,20 -18,23.4 -17.6,25.3 -17.8,21 -18.3,21 -22,20 -22,20 -28.4,17 -28.6,15 -27,14.5 -22.9",
  "Botswana": "20 -22,21 -22,21 -18.3,25.3 -17.8,27 -20,29.3 -22.1,26.5 -24.7,25.6 -25.8,23 -25.3,20.7 -26.8,20 -24.8",
  "South Africa": "16.5 -28.6,17 -28.6,20 -28.4,20 -24.8,20.7 -26.8,23 -25.3,25.6 -25.8,26.5 -24.7,29.3 -22.1,31.3 -22.4,32 -25.5,32.9 -26.9,32.5 -28.7,30.5 -31,27.5 -33.5,25.5 -34,22.5 -34.1,20 -34.8,18.4 -34.2,18.2 -31.7",
  "Lesotho": "27 -29.7,28.5 -28.7,29.4 -29.6,28 -30.6",
  "Eswatini": "31 -25.8,32 -25.9,32 -27,31 -27",
  "Zimbabwe": "25.3 -17.8,27 -17.9,28.9 -16,30.4 -15.7,33 -16.5,32.8 -19.5,31.3 -22.4,29.3 -22.1,27 -20",
  "Mozambique": "32.9 -26.9,32 -25.5,31.3 -22.4,32.8 -19.5,33 -16.5,30.4 -15.7,30.2 -15,33 -14.5,35 -16.9,35.5 -14,34.5 -11.6,37.5 -11.7,40.5 -10.5,40.8 -15,36.5 -18.5,34.9 -20,35.5 -24,32.8 -25.5",
  "Malawi": "33.3 -9.5,34 -9.5,34.5 -11.6,35.5 -14,35 -16.9,34.3 -15.5,33 -14.5,33.3 -11",
  "Tanzania": "30 -1,33.9 -1,37.6 -3,39.3 -4.7,38.9 -6.5,39.5 -8,40.5 -10.5,37.5 -11.7,34.5 -11.6,34 -9.5,33 -9.5,30.8 -8.3,29.5 -6.5,29.2 -4.5,30.5 -2.5",
  "Kenya": "34 4.2,35 5.4,39.5 3.4,41 3.9,41 -0.9,39.3 -4.7,37.6 -3,33.9 -1,34 1",
  "Uganda": "31 3.8,34 4.2,34 1,33.9 -1,30 -1,29.6 -1.4,29.8 1",
  "Rwanda": "29 -2.8,29.6 -1.4,30 -1,30.5 -1.1,30.5 -2.5",
  "Burundi": "29 -2.8,30.5 -2.5,29.2 -4.5",
  "Ethiopia": "34 10,34.2 10.5,36 12.7,36.5 14.3,38 14.5,40 14.5,42.4 12.5,42.8 11,44 9,47.8 8,45 5,42 4,41 3.9,39.5 3.4,35 5.4,33 7.8",
  "Eritrea": "36.5 14.3,38.5 18,39.3 15.5,43 12.5,42.4 12.5,40 14.5,38 14.5",
  "Djibouti": "42.4 12.5,43.3 12.4,43.2 11.5,42.8 11",
  "Somalia": "43.2 11.5,44 10.5,51 12,51 10.5,48 4.5,42 -1,41 -0.9,41 3.9,42 4,45 5,47.8 8,44 9,42.8 11",
  "Madagascar": "49.3 -12,50.5 -15.5,49 -18.5,47 -25,45 -25.5,43.5 -23.5,44.3 -20,44 -17,47 -15.5",
  "Cape Verde": "-25 17,-24.8 16.9,-25 16.8|-23.7 15.2,-23.5 15,-23.7 14.9",
  "Sao Tome": "6.5 0.4,6.7 0.3,6.5 0.1",
  "Comoros": "43.3 -11.4,43.5 -11.8,43.3 -11.9",
  "Mauritius": "57.4 -20,57.7 -20.2,57.5 -20.5|55.3 -20.9,55.7 -21,55.4 -21.3",
  "Kerguelen": "69 -48.8,70.5 -49.2,69.5 -49.7",
  "Palau": "134.5 7.6,134.7 7.5,134.5 7.3",
  "Micronesia": "158.1 7,158.3 6.9,158.1 6.8|151.8 7.5,152 7.4,151.8 7.3",
  "Marshall Islands": "171 7.2,171.2 7.1,171 7|168.7 8.8,168.9 8.7,168.7 8.6"
};

// 2: SVG AND PROJECTION
const svg = d3.select("#chart").append("svg")
    .attr("width", 1200)
    .attr("height", 847);

const lenAt = d3.scaleLinear().domain(robinsonLat).range(robinsonLen);
const dropAt = d3.scaleLinear().domain(robinsonLat).range(robinsonDrop);
const toDeg = 180 / Math.PI;

function robinsonRaw(lambda, phi) {
  const lat = Math.abs(phi) * toDeg;
  return [0.8487 * lambda * lenAt(lat), Math.sign(phi) * 1.3523 * dropAt(lat)];
}

const projection = d3.geoProjection(robinsonRaw)
    .scale(223.5)
    .translate([513, 462.5]);

// planar path so long straight borders stay straight
const path = d3.geoPath(d3.geoTransform({
  point(x, y) {
    const p = projection([x, y]);
    this.stream.point(p[0], p[1]);
  }
}));

const color = d3.scaleThreshold().domain(breaks).range(bandColors.concat(bandColors[7]));
const noDataColor = "#eeeeee";

function toGeometry(text) {
  return {
    type: "MultiPolygon",
    coordinates: text.split("|").map(ring => {
      const pts = ring.split(",").map(p => p.split(" ").map(Number));
      pts.push(pts[0]);
      return [pts];
    })
  };
}

// 3: MAP
svg.append("g")
    .selectAll("path")
    .data(countries.map((name, i) => ({ name, rate: rates[i] })))
    .join("path")
    .attr("d", d => path(toGeometry(outlines[d.name])))
    .attr("fill", d => d.rate === null ? noDataColor : color(d.rate))
    .attr("fill-rule", "evenodd")
    .attr("stroke", "#4d4d4d")
    .attr("stroke-width", 0.55)
    .attr("stroke-linejoin", "round");

// 4: TITLE AND SUBTITLE
svg.append("text")
    .attr("x", 21).attr("y", 50)
    .attr("textLength", 501).attr("lengthAdjust", "spacingAndGlyphs")
    .style("font-family", "'Liberation Serif', serif")
    .style("font-size", "37px")
    .attr("fill", "#555")
    .text("Hepatitis B incidence rate, 2017");

const subtitle = [
  "Incidence of hepatitis B, measured as the number of new cases of hepatitis B per 100,000 individuals in a given",
  "population. SDG Target 3.3 is to combat heptatitis by 2030."
];
svg.selectAll(".subtitle")
    .data(subtitle)
    .join("text")
    .attr("class", "subtitle")
    .attr("x", 21)
    .attr("y", (d, i) => 79 + i * 24.5)
    .style("font-size", "20.3px")
    .attr("fill", "#555")
    .text(d => d);

// 5: LOGO
const logo = svg.append("g");
logo.append("rect").attr("x", 1092).attr("y", 21).attr("width", 86).attr("height", 49).attr("fill", "#002147");
logo.append("rect").attr("x", 1092).attr("y", 65).attr("width", 86).attr("height", 5).attr("fill", "#ce261e");
logo.selectAll("text")
    .data(["Our World", "in Data"])
    .join("text")
    .attr("x", 1135)
    .attr("y", (d, i) => 40 + i * 19)
    .attr("text-anchor", "middle")
    .style("font-family", "Lato, sans-serif")
    .style("font-size", "16.5px")
    .attr("fill", "#fff")
    .text(d => d);

// 6: LEGEND
const legendX = d3.scalePoint().domain(tickLabels).range([226, 1063]);
const legendY = 767;
const legendH = 14;
const legend = svg.append("g");

legend.selectAll(".bin")
    .data(bandColors)
    .join("rect")
    .attr("class", "bin")
    .attr("x", (d, i) => legendX(tickLabels[i]))
    .attr("y", legendY)
    .attr("width", legendX.step())
    .attr("height", legendH)
    .attr("fill", d => d)
    .attr("stroke", "#999")
    .attr("stroke-width", 0.8);

legend.selectAll(".tick")
    .data(tickLabels)
    .join("line")
    .attr("class", "tick")
    .attr("x1", d => legendX(d)).attr("x2", d => legendX(d))
    .attr("y1", legendY - 5).attr("y2", legendY)
    .attr("stroke", "#999");

legend.selectAll(".label")
    .data(tickLabels)
    .join("text")
    .attr("class", "label")
    .attr("x", d => legendX(d))
    .attr("y", 757)
    .attr("text-anchor", "middle")
    .style("font-size", "18.8px")
    .attr("fill", "#000")
    .text(d => d);

legend.append("rect")
    .attr("x", 137).attr("y", legendY).attr("width", 67).attr("height", legendH)
    .attr("fill", noDataColor).attr("stroke", "#999").attr("stroke-width", 0.8);
legend.append("line")
    .attr("x1", 170.5).attr("x2", 170.5).attr("y1", legendY - 5).attr("y2", legendY)
    .attr("stroke", "#999");
legend.append("text")
    .attr("x", 170.5).attr("y", 757).attr("text-anchor", "middle")
    .style("font-size", "18.8px").attr("fill", "#000")
    .text("No data");

// 7: FOOTER
svg.append("text")
    .attr("x", 21).attr("y", 821)
    .style("font-size", "17.8px").attr("fill", "#777")
    .text("Source: IHME, Global Burden of Disease");
svg.append("text")
    .attr("x", 1178).attr("y", 821).attr("text-anchor", "end")
    .style("font-size", "17.8px").attr("fill", "#777")
    .text("CC BY");
</script>
</body>
</html>
